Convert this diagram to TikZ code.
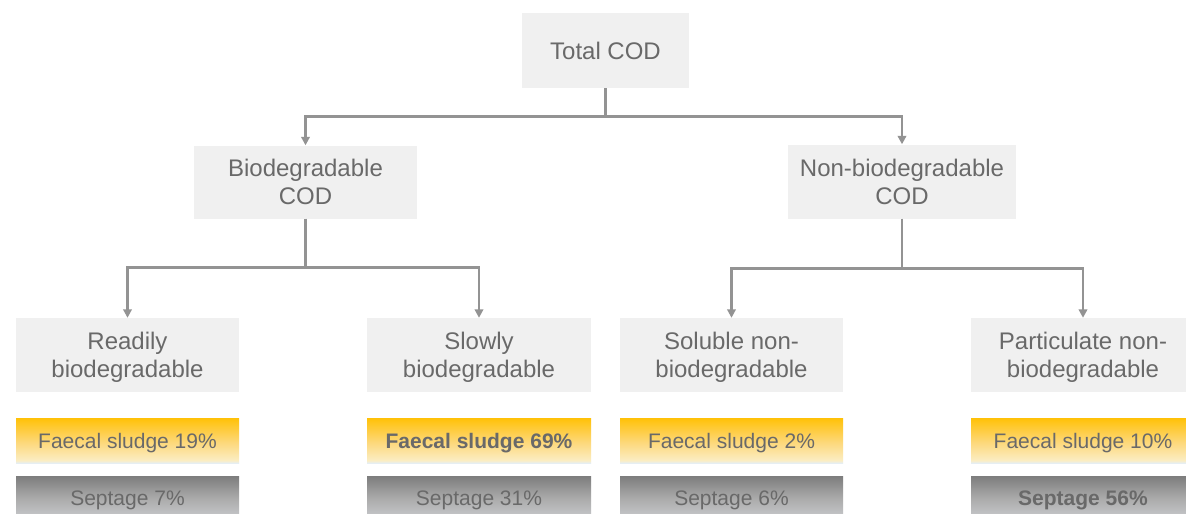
\documentclass[tikz,border=0pt]{standalone}
\usepackage{fontspec}
\setmainfont{Liberation Sans}
\usetikzlibrary{arrows.meta}

\definecolor{txt}{HTML}{696969}
\definecolor{boxfill}{HTML}{F0F0F0}
\definecolor{wire}{HTML}{939393}
\definecolor{fsTop}{HTML}{FFC107}
\definecolor{fsMid}{HTML}{FDD87A}
\definecolor{fsLow}{HTML}{FBEDC2}
\definecolor{fsBot}{HTML}{E6EEF2}
\definecolor{stTop}{HTML}{7D7D7D}
\definecolor{stMid}{HTML}{ABABAB}
\definecolor{stBot}{HTML}{CBCDD0}

% bottom-to-top colour stops; the path spans 25bp..75bp
\pgfdeclareverticalshading{faecal}{100bp}{color(0bp)=(fsBot); color(25bp)=(fsBot);
  color(28bp)=(fsLow); color(48bp)=(fsMid); color(75bp)=(fsTop); color(100bp)=(fsTop)}
\pgfdeclareverticalshading{septage}{100bp}{color(0bp)=(stBot); color(25bp)=(stBot);
  color(50bp)=(stMid); color(75bp)=(stTop); color(100bp)=(stTop)}

\tikzset{
  codbox/.style={fill=boxfill, text=txt, align=center, inner sep=0pt, text depth=0pt,
    minimum height=74pt, font=\fontsize{24}{28}\selectfont},
  fsbar/.style={shade, shading=faecal, text=txt, inner sep=0pt, text depth=0pt,
    minimum width=223pt, minimum height=45pt, font=\fontsize{21}{24}\selectfont},
  stbar/.style={shade, shading=septage, text=txt, inner sep=0pt, text depth=0pt,
    minimum width=223pt, minimum height=45pt, font=\fontsize{21}{24}\selectfont},
  wireline/.style={draw=wire, line width=2.6pt, line join=miter},
  arrowline/.style={wireline, -{Triangle[width=8.5pt,length=8.5pt]}},
}

\begin{document}
\begin{tikzpicture}[x=1pt, y=-1pt]
  \clip (0,0) rectangle (1186,514);
  \fill[white] (0,0) rectangle (1186,514);

  % hierarchy of COD fractions
  \node[codbox, minimum width=167pt, minimum height=75pt] (total) at (605.5,50.5) {Total COD};
  \node[codbox, minimum width=223pt, minimum height=73pt] (bio) at (305.5,182) {Biodegradable\\COD};
  \node[codbox, minimum width=228pt, minimum height=74pt] (nonbio) at (902,181.5) {Non-biodegradable\\COD};

  \node[codbox, minimum width=223pt] (ready) at (127.5,355) {Readily\\biodegradable};
  \node[codbox, minimum width=224pt] (slow) at (479,355) {Slowly\\biodegradable};
  \node[codbox, minimum width=223pt] (sol) at (731.5,355) {Soluble non-\\biodegradable};
  \node[codbox, minimum width=224pt] (part) at (1083,355) {Particulate non-\\biodegradable};

  % faecal sludge and septage shares
  \node[fsbar] (fs1) at (127.5,440.5) {Faecal sludge 19\%};
  \node[fsbar, minimum width=224pt] (fs2) at (479,440.5) {\bfseries Faecal sludge 69\%};
  \node[fsbar] (fs3) at (731.5,440.5) {Faecal sludge 2\%};
  \node[fsbar, minimum width=224pt] (fs4) at (1083,440.5) {Faecal sludge 10\%};

  \node[stbar] (st1) at (127.5,498.5) {Septage 7\%};
  \node[stbar, minimum width=224pt] (st2) at (479,498.5) {Septage 31\%};
  \node[stbar] (st3) at (731.5,498.5) {Septage 6\%};
  \node[stbar, minimum width=224pt] (st4) at (1083,498.5) {\bfseries Septage 56\%};

  % connectors
  \draw[wireline] (total.south) -- ++(0,28) coordinate (j0);
  \draw[arrowline] (j0) -| (bio.north);
  \draw[arrowline] (j0) -| (nonbio.north);

  \draw[wireline] (bio.south) -- ++(0,49) coordinate (j1);
  \draw[arrowline] (j1) -| (ready.north);
  \draw[arrowline] (j1) -| (slow.north);

  \draw[wireline] (nonbio.south) -- ++(0,49.5) coordinate (j2);
  \draw[arrowline] (j2) -| (sol.north);
  \draw[arrowline] (j2) -| (part.north);
\end{tikzpicture}
\end{document}
